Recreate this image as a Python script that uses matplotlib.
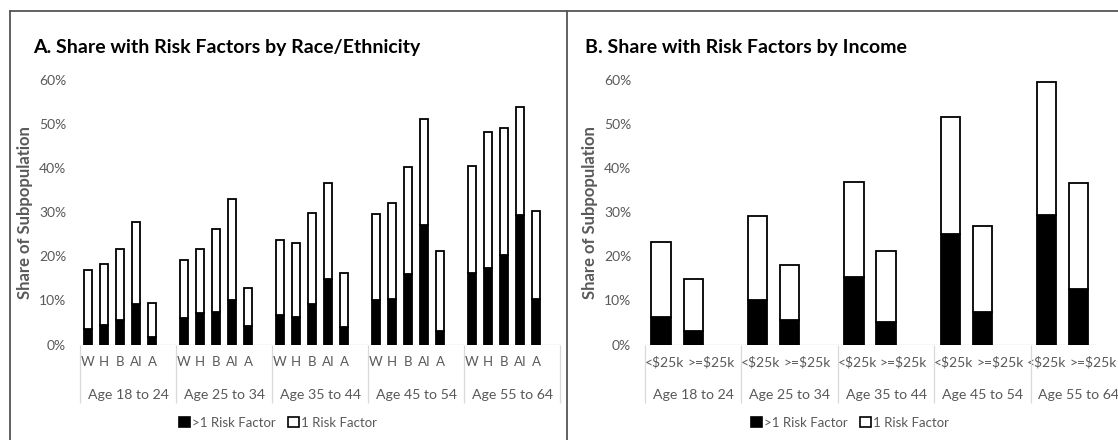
import matplotlib.pyplot as plt
from matplotlib.patches import Patch
from matplotlib.lines import Line2D
import numpy as np

plt.rcParams["font.family"] = ["Lato", "DejaVu Sans"]

# data (percent of subpopulation)
age_groups = ["Age 18 to 24", "Age 25 to 34", "Age 35 to 44", "Age 45 to 54", "Age 55 to 64"]

race_labels = ["W", "H", "B", "AI", "A"]
race_multi = [
    [3.6, 4.5, 5.5, 9.2, 1.7],
    [6.0, 7.2, 7.4, 10.2, 4.2],
    [6.8, 6.2, 9.2, 14.8, 3.9],
    [10.0, 10.4, 15.9, 27.2, 3.0],
    [16.2, 17.3, 20.4, 29.3, 10.4],
]
race_one = [
    [13.4, 13.8, 16.1, 18.6, 7.8],
    [13.1, 14.4, 18.7, 22.9, 8.6],
    [16.8, 16.8, 20.7, 21.9, 12.4],
    [19.7, 21.8, 24.3, 23.9, 18.2],
    [24.3, 31.0, 28.8, 24.6, 19.9],
]

income_labels = ["<$25k", ">=$25k"]
income_multi = [
    [6.2, 3.0],
    [10.2, 5.5],
    [15.4, 5.2],
    [25.0, 7.4],
    [29.4, 12.7],
]
income_one = [
    [17.1, 11.9],
    [19.0, 12.5],
    [21.5, 15.9],
    [26.5, 19.4],
    [30.1, 24.0],
]

yticks = [0, 10, 20, 30, 40, 50, 60]

W, H = 1118, 440
GREY = "#595959"
LIGHT = "#d9d9d9"


def fx(px):
    return px / W


def fy(py):
    return 1 - py / H


def make_axes(fig, left_px, right_px):
    top_px, bottom_px = 80, 344.5
    ax = fig.add_axes([fx(left_px), fy(bottom_px),
                       (right_px - left_px) / W, (bottom_px - top_px) / H])
    return ax


def draw_panel(ax, labels, multi, one, slots, offset, width, label_offsets,
               axis_px, tick_size):
    n = len(labels)
    ngroups = len(age_groups)
    for g in range(ngroups):
        xs = g * slots + np.arange(n) + offset
        ax.bar(xs, multi[g], width, color="black", edgecolor="black", lw=1.3, zorder=3)
        ax.bar(xs, one[g], width, bottom=multi[g], color="white",
               edgecolor="black", lw=1.3, zorder=3)

    ax.set_xlim(0, ngroups * slots)
    ax.set_ylim(0, 60)

    ticks = [g * slots + o for g in range(ngroups) for o in label_offsets[g]]
    ax.set_xticks(ticks)
    ax.set_xticklabels(labels * ngroups)
    ax.tick_params(axis="x", length=0, pad=8, labelsize=tick_size, labelcolor=GREY)

    ax.set_yticks(yticks)
    ax.set_yticklabels([f"{v}%" for v in yticks])
    ax.tick_params(axis="y", length=0, pad=10, labelsize=10, labelcolor=GREY)

    for s in ax.spines.values():
        s.set_visible(False)

    h = 344.5 - 80
    tr = ax.get_xaxis_transform()
    ax.vlines([g * slots for g in range(ngroups + 1)], 0, -(403 - 344.5) / h,
              transform=tr, color=LIGHT, lw=0.9, clip_on=False)
    for g, name in enumerate(age_groups):
        ax.text(g * slots + slots / 2, -(395 - 344.5) / h, name, transform=tr,
                ha="center", va="center", fontsize=10.2, color=GREY)

    ax.set_ylabel("Share of Subpopulation", fontsize=12, fontweight="bold", color=GREY)
    ax.yaxis.set_label_coords(-47 / axis_px, 0.5)


fig = plt.figure(figsize=(11.18, 4.4), dpi=100)

# panel frames
frame = dict(color="#555555", lw=1.3)
fig.add_artist(Line2D([fx(10), fx(10)], [fy(11), 0], **frame))
fig.add_artist(Line2D([fx(10), 1], [fy(11), fy(11)], **frame))
fig.add_artist(Line2D([fx(567), fx(567)], [fy(11), 0], **frame))

axA = make_axes(fig, 80, 560)
draw_panel(axA, race_labels, race_multi, race_one, 6, 0.5, 0.52,
           [list(np.arange(5) + 0.5)] * 5, 480, 9.5)
axA.axhline(0, color=LIGHT, lw=1, zorder=1)

axB = make_axes(fig, 645, 1127)
draw_panel(axB, income_labels, income_multi, income_one, 3, 0.5, 0.6,
           [[0.6, 2.05]] * 4 + [[0.5, 1.95]], 482, 10)
axB.axhline(0, xmax=0.934, color=LIGHT, lw=1, zorder=1)

fig.text(fx(33), fy(47), "A. Share with Risk Factors by Race/Ethnicity",
         fontsize=14, fontweight="bold", ha="left", va="center")
fig.text(fx(585), fy(47), "B. Share with Risk Factors by Income",
         fontsize=14, fontweight="bold", ha="left", va="center")

handles = [Patch(facecolor="black", edgecolor="black", lw=1.2),
           Patch(facecolor="white", edgecolor="black", lw=1.2)]
names = [">1 Risk Factor", "1 Risk Factor"]
for cx in (278, 850):
    fig.legend(handles, names, loc="center", bbox_to_anchor=(fx(cx), fy(423)),
               ncol=2, frameon=False, handlelength=0.8, handleheight=0.8,
               handletextpad=0.15, columnspacing=1.0, fontsize=9.5,
               labelcolor=GREY, borderpad=0)

fig.savefig("out.png", dpi=100)
